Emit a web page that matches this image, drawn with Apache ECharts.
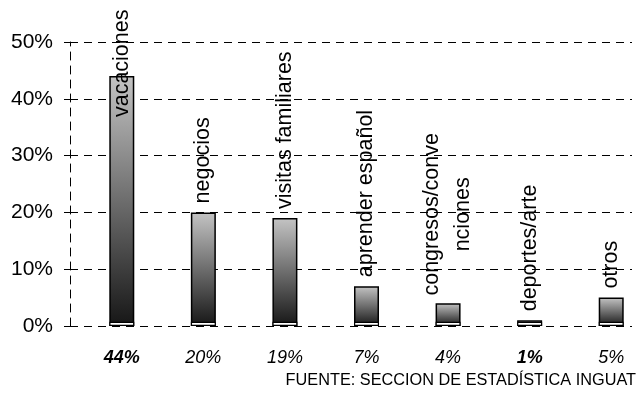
<!DOCTYPE html>
<html>
<head>
<meta charset="utf-8">
<script src="https://cdn.jsdelivr.net/npm/echarts@6/dist/echarts.min.js"></script>
<style>html,body{margin:0;padding:0;background:#fff}#c{width:638px;height:406px}</style>
</head>
<body>
<div id="c"></div>
<script>
const categories = ['vacaciones', 'negocios', 'visitas familiares', 'aprender español', 'congresos/conve\nnciones', 'deportes/arte', 'otros'];
const values = [44, 20, 19, 7, 4, 1, 5];
const pctLabels = ['44%', '20%', '19%', '7%', '4%', '1%', '5%'];
const emphasized = [0, 5];
const yMin = 0, yMax = 50, yStep = 10;
const source = 'FUENTE: SECCION DE ESTADÍSTICA INGUAT';

const FONT = 'Liberation Sans, Arial, sans-serif';
const BASE_H = 0.75; // decorative floor height of each column

const chart = echarts.init(document.getElementById('c'), null, {renderer: 'canvas'});

const barGrad = new echarts.graphic.LinearGradient(0, 0, 0, 1, [
  {offset: 0, color: '#c4c4c4'},
  {offset: 1, color: '#161616'}
]);

const barData = values.map((v, i) => {
  const item = {value: v};
  if (i === 0) item.label = {position: 'insideTop', distance: 41};
  if (categories[i].indexOf('\n') >= 0) item.label = {align: 'center', distance: 89, lineHeight: 31};
  return item;
});

const option = {
  animation: false,
  backgroundColor: '#fff',
  grid: [
    {left: 70, right: 6, top: 42, bottom: 80, outerBoundsMode: 'none', containLabel: false},
    {left: 81, width: 571, top: 42, bottom: 80, outerBoundsMode: 'none', containLabel: false}
  ],
  xAxis: [
    {type: 'value', gridIndex: 0, show: false, min: 0, max: 1},
    {
      type: 'category', gridIndex: 1, data: pctLabels,
      axisLine: {show: false}, axisTick: {show: false},
      axisLabel: {
        interval: 0, hideOverlap: false,
        margin: 23, fontSize: 18, fontStyle: 'italic', color: '#000', fontFamily: FONT,
        formatter: (v, i) => emphasized.indexOf(i) >= 0 ? '{b|' + v + '}' : v,
        rich: {b: {fontSize: 18, fontStyle: 'italic', fontWeight: 'bold', color: '#000', fontFamily: FONT}}
      }
    }
  ],
  yAxis: [
    {
      type: 'value', gridIndex: 0, min: yMin, max: yMax, interval: yStep,
      axisLine: {show: true, lineStyle: {color: '#000', width: 1, type: [8, 6]}},
      axisTick: {show: true, length: 6, lineStyle: {color: '#000', width: 1}},
      axisLabel: {formatter: '{value}%', fontSize: 21, color: '#000', margin: 17, fontFamily: FONT},
      splitLine: {show: true, lineStyle: {color: '#000', width: 1, type: [8, 6]}}
    },
    {type: 'value', gridIndex: 1, min: yMin, max: yMax, interval: yStep, show: false, splitLine: {show: false}}
  ],
  series: [
    {
      type: 'bar', xAxisIndex: 1, yAxisIndex: 1, barWidth: 25, barGap: '-100%', z: 2,
      data: barData,
      itemStyle: {color: barGrad, borderColor: '#000', borderWidth: 1.5},
      label: {
        show: true, position: 'top', distance: 9, rotate: 90,
        align: 'left', verticalAlign: 'middle',
        fontSize: 21.5, color: '#000', fontFamily: FONT,
        formatter: p => categories[p.dataIndex]
      }
    },
    {
      type: 'bar', xAxisIndex: 1, yAxisIndex: 1, barWidth: 25, barGap: '-100%', z: 3, silent: true,
      data: values.map(() => BASE_H),
      itemStyle: {color: '#fff', borderColor: '#000', borderWidth: 1.2}
    }
  ],
  graphic: [
    {type: 'text', right: 2, top: 373, style: {text: source, font: '16.3px ' + FONT, fill: '#000'}}
  ]
};
chart.setOption(option);
</script>
</body>
</html>
